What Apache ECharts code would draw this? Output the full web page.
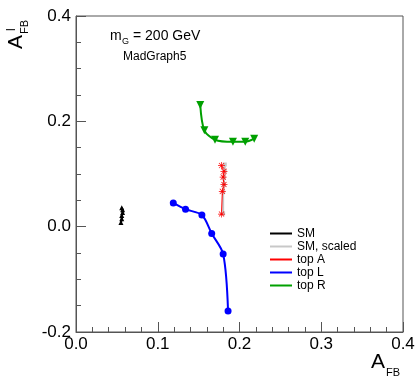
<!DOCTYPE html>
<html>
<head>
<meta charset="utf-8">
<script src="https://cdn.jsdelivr.net/npm/echarts@6/dist/echarts.min.js"></script>
<style>
  html, body { margin: 0; background: #fff; }
  #chart { width: 418px; height: 382px; }
</style>
</head>
<body>
<div id="chart"></div>
<script>
// values (A_FB, A^l_FB)
const smX = [0.055, 0.056, 0.056, 0.057, 0.057, 0.056];
const smY = [0.008, 0.015, 0.021, 0.027, 0.032, 0.036];
const smScaledX = [0.182, 0.182, 0.181, 0.181, 0.180, 0.180];
const smScaledY = [0.118, 0.106, 0.093, 0.080, 0.066, 0.025];
const topAX = [0.178, 0.181, 0.180, 0.181, 0.179, 0.178];
const topAY = [0.116, 0.105, 0.094, 0.080, 0.067, 0.024];
const topLX = [0.119, 0.134, 0.154, 0.166, 0.180, 0.186];
const topLY = [0.045, 0.033, 0.022, -0.013, -0.052, -0.160];
const topRX = [0.152, 0.157, 0.170, 0.192, 0.207, 0.218];
const topRY = [0.231, 0.183, 0.165, 0.161, 0.161, 0.167];

const legendNames = ["SM", "SM, scaled", "top A", "top L", "top R"];

const FONT = "Liberation Sans";
const AXIS = "#555";

function pairs(xs, ys) {
  return xs.map((x, i) => [x, ys[i]]);
}

// asterisk marker, like ROOT marker 3
const star = "path://M4.5,0h1v10h-1z M0,4.5h10v1h-10z M1,1.7l0.7,-0.7l7.3,7.3l-0.7,0.7z M8.3,1l0.7,0.7l-7.3,7.3l-0.7,-0.7z";

const chart = echarts.init(document.getElementById("chart"));

chart.setOption({
  animation: false,
  backgroundColor: "#fff",
  grid: {
    left: 76, right: 15, top: 16, bottom: 50,
    show: true, borderColor: AXIS, borderWidth: 1
  },
  xAxis: {
    type: "value", min: 0, max: 0.4, interval: 0.1,
    axisLine: { onZero: false, lineStyle: { color: AXIS } },
    axisTick: { inside: true, length: 10, lineStyle: { color: AXIS } },
    minorTick: { show: true, splitNumber: 5, length: 5, lineStyle: { color: AXIS } },
    splitLine: { show: false },
    axisLabel: {
      margin: 4, fontSize: 17, color: "#000", fontFamily: FONT,
      formatter: v => v.toFixed(1)
    }
  },
  yAxis: {
    type: "value", min: -0.2, max: 0.4, interval: 0.2,
    axisLine: { onZero: false, lineStyle: { color: AXIS } },
    axisTick: { inside: true, length: 10, lineStyle: { color: AXIS } },
    minorTick: { show: true, splitNumber: 4, length: 5, lineStyle: { color: AXIS } },
    splitLine: { show: false },
    axisLabel: {
      margin: 5, fontSize: 17, color: "#000", fontFamily: FONT,
      formatter: v => v.toFixed(1)
    }
  },
  legend: {
    data: legendNames,
    orient: "vertical",
    left: 265, top: 222,
    icon: "rect", itemWidth: 22, itemHeight: 2, itemGap: 0,
    textStyle: { fontSize: 12, lineHeight: 13, color: "#000", fontFamily: FONT }
  },
  series: [
    {
      name: "SM", type: "line", data: pairs(smX, smY),
      color: "#000", lineStyle: { width: 2 },
      symbol: "triangle", symbolSize: 5
    },
    {
      name: "SM, scaled", type: "line", data: pairs(smScaledX, smScaledY),
      color: "#c8c8c8", lineStyle: { width: 2 },
      symbol: "rect", symbolSize: 4
    },
    {
      name: "top A", type: "line", data: pairs(topAX, topAY),
      color: "#ff0000", lineStyle: { width: 1 },
      symbol: star, symbolSize: 7
    },
    {
      name: "top L", type: "line", data: pairs(topLX, topLY),
      color: "#0000ff", lineStyle: { width: 2 }, smooth: 0.3,
      symbol: "circle", symbolSize: 7
    },
    {
      name: "top R", type: "line", data: pairs(topRX, topRY),
      color: "#00a000", lineStyle: { width: 2 }, smooth: 0.3,
      symbol: "triangle", symbolRotate: 180, symbolSize: 8
    }
  ],
  graphic: [
    // labels in the plot
    { type: "text", left: 110, top: 29, style: { text: "m", fontSize: 14, fontFamily: FONT, fill: "#000" } },
    { type: "text", left: 122, top: 37, style: { text: "G", fontSize: 9, fontFamily: FONT, fill: "#000" } },
    { type: "text", left: 133, top: 29, style: { text: "= 200 GeV", fontSize: 14, fontFamily: FONT, fill: "#000" } },
    { type: "text", left: 123, top: 51, style: { text: "MadGraph5", fontSize: 12, fontFamily: FONT, fill: "#000" } },
    // x title
    { type: "text", left: 371, top: 352, style: { text: "A", fontSize: 21, fontFamily: FONT, fill: "#000" } },
    { type: "text", left: 386, top: 367, style: { text: "FB", fontSize: 11, fontFamily: FONT, fill: "#000" } },
    // y title, rotated
    { type: "text", x: 6, y: 49, rotation: Math.PI / 2, style: { text: "A", fontSize: 21, fontFamily: FONT, fill: "#000" } },
    { type: "text", x: 6, y: 31, rotation: Math.PI / 2, style: { text: "l", fontSize: 12, fontFamily: FONT, fill: "#000" } },
    { type: "text", x: 19, y: 34, rotation: Math.PI / 2, style: { text: "FB", fontSize: 11, fontFamily: FONT, fill: "#000" } }
  ]
});
</script>
</body>
</html>
